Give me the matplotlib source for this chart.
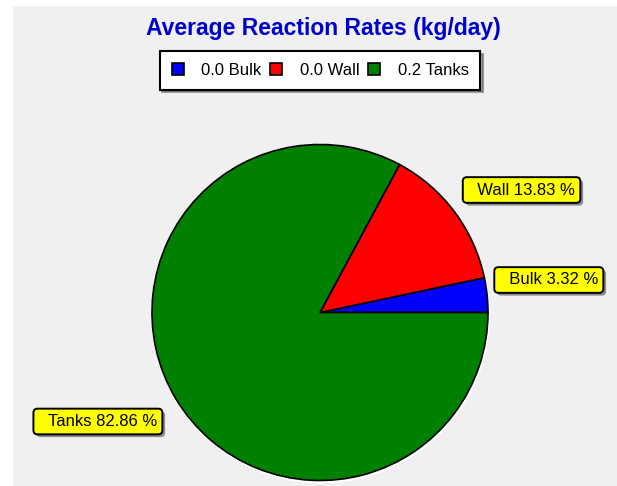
import numpy as np
import matplotlib
matplotlib.use("Agg")
import matplotlib.pyplot as plt
from matplotlib.patches import Rectangle, Circle
from matplotlib.lines import Line2D
import matplotlib.patheffects as pe

plt.rcParams["font.family"] = ["Liberation Sans", "DejaVu Sans"]

# data
categories = ["Bulk", "Wall", "Tanks"]
percents = [3.32, 13.83, 82.86]
rates = [0.0, 0.0, 0.2]  # kg/day, as shown in legend
colors = ["#0000FF", "#FF0000", "#008000"]

W, H = 617, 486
fig = plt.figure(figsize=(W / 100, H / 100), dpi=100)
fig.patch.set_facecolor("white")
fig.patches.append(Rectangle((13 / W, 0), 1 - 13 / W, 1 - 6 / H,
                             transform=fig.transFigure, facecolor="#F0F0F0",
                             edgecolor="none", zorder=-10))

# pie axes in pixel units, centre at (320, 312.5) from top-left
cx, cy, half = 320, 312.5, 175
ax = fig.add_axes([(cx - half) / W, (H - cy - half) / H, 2 * half / W, 2 * half / H])
ax.set_zorder(1)

R = 168
ax.add_patch(Circle((1, -2), R + 1, facecolor="white", edgecolor="none", zorder=0))
wedges, _ = ax.pie(percents, colors=colors, radius=R, startangle=0,
                   counterclock=True,
                   wedgeprops=dict(edgecolor="black", linewidth=1.2))
for w in wedges:
    w.set_zorder(2)
ax.set_xlim(-half, half)
ax.set_ylim(-half, half)
ax.set_aspect("equal")
ax.axis("off")

# label boxes (anchored at the right end of the text, extra room on the left)
label_pos = {"Bulk": (278, 32.5), "Wall": (255, 122.5), "Tanks": (-163, -109)}
shadow = [pe.withSimplePatchShadow(offset=(2, -2), shadow_rgbFace="#606060", alpha=0.7)]
for cat, p in zip(categories, percents):
    x, y = label_pos[cat]
    t = ax.text(x, y, f"  {cat} {p:.2f} %", ha="right", va="center",
                fontsize=12, color="black", zorder=5,
                bbox=dict(boxstyle="round,pad=0.32,rounding_size=0.25",
                          facecolor="#FFFF00", edgecolor="black", linewidth=1.4))
    t.get_bbox_patch().set_path_effects(shadow)

# title
fig.text(323.5 / W, 1 - 29 / H, "Average Reaction Rates (kg/day)",
         ha="center", va="center", fontsize=16.5, fontweight="bold", color="#0000CC")

# legend
handles = [Line2D([], [], marker="s", linestyle="none", markersize=8.6,
                  markerfacecolor=c, markeredgecolor="black", markeredgewidth=1.2)
           for c in colors]
labels = [f"{r:.1f} {c}" for r, c in zip(rates, categories)]
leg = fig.legend(handles, labels, loc="center", bbox_to_anchor=(320 / W, 1 - 70.5 / H),
                 ncol=3, fontsize=12, frameon=True, fancybox=False, shadow=True,
                 handlelength=0.8, handletextpad=1.0, columnspacing=0.5,
                 borderpad=0.7)
frame = leg.get_frame()
frame.set_edgecolor("black")
frame.set_linewidth(1.5)
frame.set_facecolor("white")
frame.set_alpha(1)

fig.savefig("out.png", dpi=100)
